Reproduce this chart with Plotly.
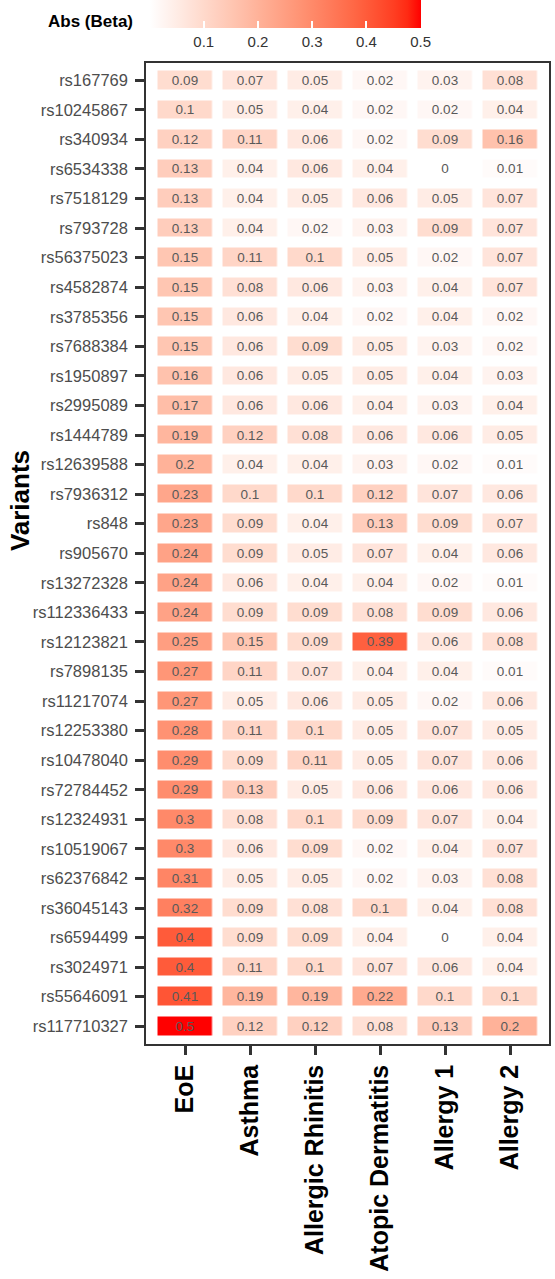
import numpy as np
import plotly.graph_objects as go

variants = ["rs167769", "rs10245867", "rs340934", "rs6534338", "rs7518129", "rs793728",
            "rs56375023", "rs4582874", "rs3785356", "rs7688384", "rs1950897", "rs2995089",
            "rs1444789", "rs12639588", "rs7936312", "rs848", "rs905670", "rs13272328",
            "rs112336433", "rs12123821", "rs7898135", "rs11217074", "rs12253380", "rs10478040",
            "rs72784452", "rs12324931", "rs10519067", "rs62376842", "rs36045143", "rs6594499",
            "rs3024971", "rs55646091", "rs117710327"]
traits = ["EoE", "Asthma", "Allergic Rhinitis", "Atopic Dermatitis", "Allergy 1", "Allergy 2"]

eoe = [0.09, 0.1, 0.12, 0.13, 0.13, 0.13, 0.15, 0.15, 0.15, 0.15, 0.16, 0.17, 0.19, 0.2, 0.23,
       0.23, 0.24, 0.24, 0.24, 0.25, 0.27, 0.27, 0.28, 0.29, 0.29, 0.3, 0.3, 0.31, 0.32, 0.4,
       0.4, 0.41, 0.5]
asthma = [0.07, 0.05, 0.11, 0.04, 0.04, 0.04, 0.11, 0.08, 0.06, 0.06, 0.06, 0.06, 0.12, 0.04,
          0.1, 0.09, 0.09, 0.06, 0.09, 0.15, 0.11, 0.05, 0.11, 0.09, 0.13, 0.08, 0.06, 0.05,
          0.09, 0.09, 0.11, 0.19, 0.12]
allergic_rhinitis = [0.05, 0.04, 0.06, 0.06, 0.05, 0.02, 0.1, 0.06, 0.04, 0.09, 0.05, 0.06,
                     0.08, 0.04, 0.1, 0.04, 0.05, 0.04, 0.09, 0.09, 0.07, 0.06, 0.1, 0.11,
                     0.05, 0.1, 0.09, 0.05, 0.08, 0.09, 0.1, 0.19, 0.12]
atopic_dermatitis = [0.02, 0.02, 0.02, 0.04, 0.06, 0.03, 0.05, 0.03, 0.02, 0.05, 0.05, 0.04,
                     0.06, 0.03, 0.12, 0.13, 0.07, 0.04, 0.08, 0.39, 0.04, 0.05, 0.05, 0.05,
                     0.06, 0.09, 0.02, 0.02, 0.1, 0.04, 0.07, 0.22, 0.08]
allergy1 = [0.03, 0.02, 0.09, 0, 0.05, 0.09, 0.02, 0.04, 0.04, 0.03, 0.04, 0.03, 0.06, 0.02,
            0.07, 0.09, 0.04, 0.02, 0.09, 0.06, 0.04, 0.02, 0.07, 0.07, 0.06, 0.07, 0.04, 0.03,
            0.04, 0, 0.06, 0.1, 0.13]
allergy2 = [0.08, 0.04, 0.16, 0.01, 0.07, 0.07, 0.07, 0.07, 0.02, 0.02, 0.03, 0.04, 0.05, 0.01,
            0.06, 0.07, 0.06, 0.01, 0.06, 0.08, 0.01, 0.06, 0.05, 0.06, 0.06, 0.04, 0.07, 0.08,
            0.08, 0.04, 0.04, 0.1, 0.2]
cbar_ticks = [0.1, 0.2, 0.3, 0.4, 0.5]

z = np.array([eoe, asthma, allergic_rhinitis, atopic_dermatitis, allergy1, allergy2]).T
text = [[f"{v:g}" for v in row] for row in z]


def lab_to_hex(L, a, b):
    fy = (L + 16) / 116
    fx = fy + a / 500
    fz = fy - b / 200

    def finv(t):
        return t ** 3 if t ** 3 > 0.008856 else (t - 16 / 116) / 7.787

    X = 0.95047 * finv(fx)
    Y = 1.0 * finv(fy)
    Z = 1.08883 * finv(fz)
    r = 3.2406 * X - 1.5372 * Y - 0.4986 * Z
    g = -0.9689 * X + 1.8758 * Y + 0.0415 * Z
    bb = 0.0557 * X - 0.2040 * Y + 1.0570 * Z

    def gam(c):
        c = 12.92 * c if c <= 0.0031308 else 1.055 * c ** (1 / 2.4) - 0.055
        return int(round(min(max(c, 0), 1) * 255))

    return "#%02x%02x%02x" % (gam(r), gam(g), gam(bb))


white = (100.0, 0.0, 0.0)
red = (53.24, 80.09, 67.20)
colorscale = []
for t in np.linspace(0, 1, 21):
    L = white[0] + (red[0] - white[0]) * t
    a = white[1] + (red[1] - white[1]) * t
    b = white[2] + (red[2] - white[2]) * t
    colorscale.append([float(t), lab_to_hex(L, a, b)])

W, H = 555, 1279
ml, mr, mt, mb = 146, 4, 58, 235
pw = W - ml - mr
ph = H - mt - mb

fig = go.Figure(go.Heatmap(
    z=z, x=traits, y=variants, text=text, texttemplate="%{text}",
    textfont=dict(family="Liberation Sans, Arial, sans-serif", size=13.5, color="#595959"),
    colorscale=colorscale, zmin=0, zmax=0.5, xgap=10.5, ygap=11,
    colorbar=dict(
        orientation="h", xref="container", yref="container",
        x=286.5 / pw, xanchor="center", y=1.0, yanchor="top",
        len=271, lenmode="pixels", thickness=28, thicknessmode="pixels",
        xpad=0, ypad=0, outlinewidth=0,
        tickvals=cbar_ticks, ticktext=[f"{v:g}" for v in cbar_ticks],
        ticks="inside", ticklen=7, tickwidth=1.5, tickcolor="white",
        ticklabeloverflow="allow",
        tickfont=dict(family="Liberation Sans, Arial, sans-serif", size=15, color="#333333"),
    ),
))

fig.update_layout(
    width=W, height=H, margin=dict(l=ml, r=mr, t=mt, b=mb, pad=0),
    paper_bgcolor="white", plot_bgcolor="white",
    font=dict(family="Liberation Sans, Arial, sans-serif"),
    xaxis=dict(
        type="category", range=[-0.6, 5.6], showgrid=False, zeroline=False,
        showline=True, mirror=True, linecolor="#333333", linewidth=1.5,
        ticks="outside", ticklen=9, tickwidth=3, tickcolor="#333333",
        tickangle=-90,
        tickfont=dict(family="Liberation Sans, Arial, sans-serif", size=25,
                      color="black", weight="bold"),
    ),
    yaxis=dict(
        type="category", range=[32.6, -0.6], showgrid=False, zeroline=False,
        showline=True, mirror=True, linecolor="#333333", linewidth=1.5,
        ticks="outside", ticklen=9, tickwidth=3, tickcolor="#333333",
        ticklabelstandoff=4,
        tickfont=dict(family="Liberation Sans, Arial, sans-serif", size=16.5, color="#4d4d4d"),
    ),
    annotations=[
        dict(text="<b>Abs (Beta)</b>", xref="paper", yref="paper",
             x=(134.5 - ml) / pw, y=1 + (mt - 17) / ph, xanchor="right", yanchor="middle",
             showarrow=False, font=dict(size=17, color="black")),
        dict(text="<b>Variants</b>", xref="paper", yref="paper", textangle=-90,
             x=(20 - ml) / pw, y=1 - (498 - mt) / ph, xanchor="center", yanchor="middle",
             showarrow=False, font=dict(size=26, color="black")),
    ],
)

fig.write_html("out.html")
